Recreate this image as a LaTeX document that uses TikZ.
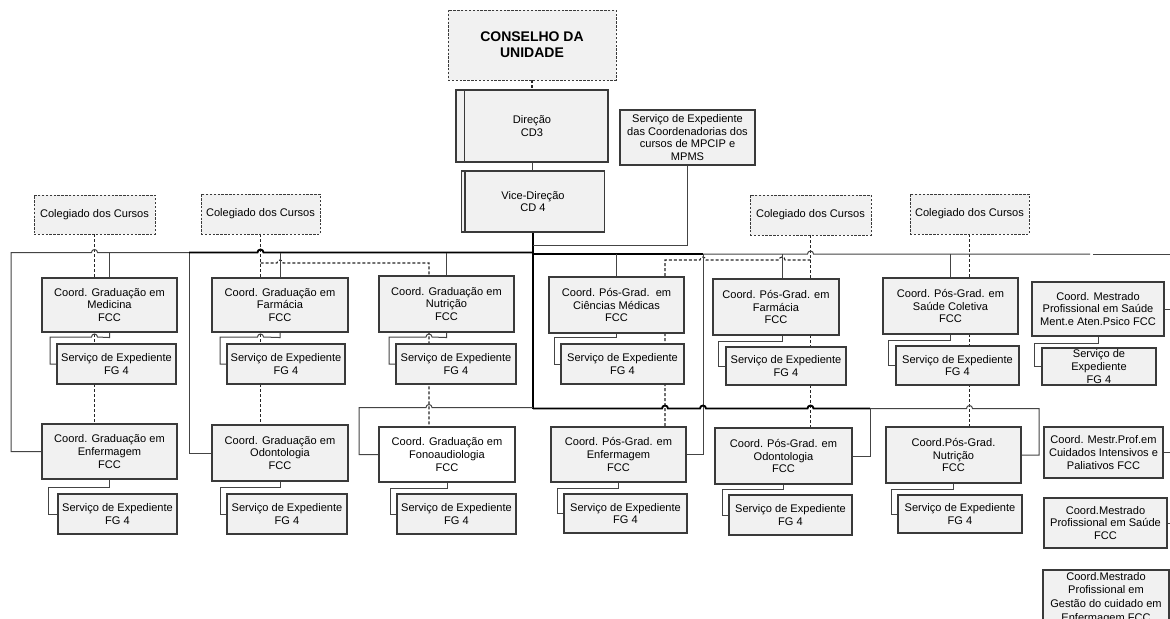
\documentclass[tikz,border=0pt]{standalone}
\usepackage{fontspec}
\setmainfont{Liberation Sans}
\usetikzlibrary{calc,backgrounds}
\definecolor{boxfill}{HTML}{F1F1F1}
\definecolor{edgecol}{HTML}{3A3A3A}
\definecolor{wirecol}{HTML}{444444}

% line hops: a small arch over a crossing line at x = #1, height #2
\newcommand{\hopR}[2]{-- (#1-3,#2) arc[start angle=180,end angle=0,radius=2.25pt]}
\newcommand{\hopL}[2]{-- (#1+3,#2) arc[start angle=0,end angle=180,radius=2.25pt]}

\tikzset{
  sz/.style 2 args={minimum width=#1*0.75pt, minimum height=#2*0.75pt},
  orgbox/.style={draw=edgecol, fill=boxfill, line width=0.8pt, inner sep=1pt,
    align=center, font=\fontsize{8.3}{9.5}\selectfont},
  dashbox/.style={orgbox, line width=0.6pt, dash pattern=on 1.8pt off 1.1pt},
  wirec/.style={draw=wirecol, line width=0.75pt},
  buswide/.style={draw=black, line width=1.4pt},
  trunkline/.style={draw=black, line width=1.2pt},
  dsh/.style={draw=black!85, line width=0.8pt, dash pattern=on 2.25pt off 1.5pt},
}

\begin{document}
\begin{tikzpicture}[x=0.75pt,y=-0.75pt]
\path[use as bounding box] (0,0) rectangle (1170,618);

% ---- direction ----
\node[dashbox, sz={168}{70}, font=\bfseries\fontsize{10.5}{11.8}\selectfont] (cons) at (532,45) {CONSELHO DA\\UNIDADE};
\node[orgbox, sz={152}{72}] (dir) at (532,126) {Direção\\CD3};
\node[orgbox, sz={143}{61}] (vice) at (533,201.5) {Vice-Direção\\CD 4};
\draw[draw=edgecol, line width=0.8pt] ([xshift=6.75pt]dir.north west) -- ([xshift=6.75pt]dir.south west);
\draw[draw=edgecol, line width=0.8pt] ([xshift=3pt]vice.north west) -- ([xshift=3pt]vice.south west);
\node[orgbox, sz={135}{55}] (sexp) at (687.5,137.5) {Serviço de Expediente\\das Coordenadorias dos\\cursos de MPCIP e\\MPMS};

% ---- course boards ----
\node[dashbox, sz={121}{39}] (col1) at (94.5,214.5) {Colegiado dos Cursos};
\node[dashbox, sz={119}{40}] (col2) at (260.5,214) {Colegiado dos Cursos};
\node[dashbox, sz={121}{40}] (col3) at (810.5,215) {Colegiado dos Cursos};
\node[dashbox, sz={119}{40}] (col4) at (969.5,214) {Colegiado dos Cursos};

% ---- first row of coordinations ----
\node[orgbox, sz={135}{54}] (gmed) at (109.5,305) {Coord. Graduação em\\Medicina\\FCC};
\node[orgbox, sz={136}{54}] (gfar) at (280,305) {Coord. Graduação em\\Farmácia\\FCC};
\node[orgbox, sz={135}{56}] (gnut) at (446.5,304) {Coord. Graduação em\\Nutrição\\FCC};
\node[orgbox, sz={135}{56}] (pcm) at (616.5,305) {Coord. Pós-Grad.\ \ em\\Ciências Médicas\\FCC};
\node[orgbox, sz={126}{56}] (pfar) at (776,307) {Coord. Pós-Grad. em\\Farmácia\\FCC};
\node[orgbox, sz={135}{56}] (pcol) at (950.5,306) {Coord. Pós-Grad. em\\Saúde Coletiva\\FCC};
\node[orgbox, sz={132}{54}] (mment) at (1098,309) {Coord. Mestrado\\Profissional em Saúde\\Ment.e Aten.Psico FCC};

\node[orgbox, sz={119}{40}] (smed) at (116.5,364) {Serviço de Expediente\\FG 4};
\node[orgbox, sz={118}{40}] (sfar) at (286,364) {Serviço de Expediente\\FG 4};
\node[orgbox, sz={120}{40}] (snut) at (456,364) {Serviço de Expediente\\FG 4};
\node[orgbox, sz={123}{40}] (spcm) at (622.5,364) {Serviço de Expediente\\FG 4};
\node[orgbox, sz={120}{38}] (spfar) at (786,366) {Serviço de Expediente\\FG 4};
\node[orgbox, sz={123}{39}] (spcol) at (957.5,365.5) {Serviço de Expediente\\FG 4};
\node[orgbox, sz={114}{37}] (smment) at (1099,366.5) {Serviço de\\Expediente\\FG 4};

% ---- second row of coordinations ----
\node[orgbox, sz={135}{55}] (genf) at (109.5,451.5) {Coord. Graduação em\\Enfermagem\\FCC};
\node[orgbox, sz={136}{56}] (godo) at (280,453) {Coord. Graduação em\\Odontologia\\FCC};
\node[orgbox, fill=white, sz={136}{55}] (gfono) at (447,454.5) {Coord. Graduação em\\Fonoaudiologia\\FCC};
\node[orgbox, sz={135}{55}] (penf) at (618.5,454.5) {Coord. Pós-Grad. em\\Enfermagem\\FCC};
\node[orgbox, sz={137}{56}] (podo) at (783.5,456) {Coord. Pós-Grad. em\\Odontologia\\FCC};
\node[orgbox, sz={135}{56}] (pnut) at (953.5,455) {Coord.Pós-Grad.\\Nutrição\\FCC};
\node[orgbox, sz={119}{51}] (mcui) at (1103.5,452.5) {Coord. Mestr.Prof.em\\Cuidados Intensivos e\\Paliativos FCC};
\node[orgbox, sz={123}{50}] (msau) at (1105.5,523) {Coord.Mestrado\\Profissional em Saúde\\FCC};
\begin{scope}
  \clip (0,0) rectangle (1170,618);
  \node[orgbox, sz={126}{56}, font=\fontsize{8.3}{10.4}\selectfont] (mges) at (1106,598) {Coord.Mestrado\\Profissional em\\Gestão do cuidado em\\Enfermagem FCC};
\end{scope}

\node[orgbox, sz={119}{40}] (senf) at (117.5,514) {Serviço de Expediente\\FG 4};
\node[orgbox, sz={120}{40}] (sodo) at (287,514) {Serviço de Expediente\\FG 4};
\node[orgbox, sz={119}{40}] (sfono) at (456.5,514) {Serviço de Expediente\\FG 4};
\node[orgbox, sz={123}{39}] (spenf) at (625.5,513.5) {Serviço de Expediente\\FG 4};
\node[orgbox, sz={123}{40}] (spodo) at (790.5,515) {Serviço de Expediente\\FG 4};
\node[orgbox, sz={124}{38}] (spnut) at (960,514) {Serviço de Expediente\\FG 4};

% ---- connectors, behind the boxes ----
\begin{pgfonlayer}{background}
\fill[white] (0,0) rectangle (1170,618);

\coordinate (jL) at (533,252.5);
\coordinate (jR) at (533,254);
\coordinate (jS) at (533,245);
\coordinate (kL) at (533,407.5);
\coordinate (kR) at (533,408.5);
\coordinate (bL) at (11,252.5);
\coordinate (bM) at (189,252.5);
\coordinate (rA) at (703,254);
\coordinate (pf) at (782,254);
\coordinate (lL) at (359,407.5);
\coordinate (lM) at (870,408.5);
\coordinate (lR) at (1039,408.5);
\coordinate (d2) at (429,263);
\coordinate (d3) at (665,260);

% dashed links from the boards
\draw[dsh] (cons.south) -- (cons.south |- dir.north);
\draw[dsh] (col1.south) -- (col1.south |- genf.north);
\draw[dsh] (col2.south) -- (col2.south |- godo.north);
\draw[dsh] (col2.south |- d2) \hopR{280}{263} -- (d2) -- (d2 |- gfono.north);
\draw[dsh] (col3.south) -- (col3.south |- podo.north);
\draw[dsh] (col3.south |- d3) \hopL{782}{260} \hopL{703}{260} -- (d3) -- (d3 |- penf.north);
\draw[dsh] (col4.south) -- (col4.south |- pnut.north);

% main chain
\draw[wirec] (dir.south) -- (dir.south |- vice.north);
\draw[trunkline] (vice.south) -- (kR);
\draw[wirec] (sexp.south) |- (jS);

% upper bus, left part
\draw[wirec] (genf.west) -| (bL) \hopR{94.5}{252.5} -- (bM);
\draw[wirec] (godo.west) -| (bM);
\draw[buswide] (bM) \hopR{260.5}{252.5} -- (jL);
\draw[wirec] (gmed.north) -- (gmed.north |- bL);
\draw[wirec] (gfar.north) -- (gfar.north |- bL);
\draw[wirec] (gnut.north) -- (gnut.north |- bL);

% upper bus, right part
\draw[buswide] (jR) -- (rA);
\draw[wirec] (rA) \hopR{810.5}{254} -- (1090,254);
\draw[wirec] (1093,254) -- (1170,254);
\draw[wirec] (pcm.north) -- (pcm.north |- jR);
\draw[wirec] (penf.east) -| (rA);
\draw[wirec] (pf) -- (pf |- pfar.north);
\draw[wirec] (pcol.north) -- (pcol.north |- jR);

% lower bus
\draw[wirec] (kL) \hopL{429}{407.5} -- (lL) |- (gfono.west);
\draw[buswide] (kR) \hopR{665}{408.5} \hopR{703}{408.5} \hopR{810.5}{408.5} -- (lM);
\draw[wirec] (lM) |- (podo.east);
\draw[wirec] (lM) \hopR{969.5}{408.5} -- (lR) |- (pnut.east);

% each coordination to its office
\draw[wirec] (gmed.south) -- ++(0,5) \hopL{94.5}{337} -- (50,337) |- (smed.west);
\draw[wirec] (gfar.south) -- ++(0,5) \hopL{260.5}{337} -- (220,337) |- (sfar.west);
\draw[wirec] (gnut.south) -- ++(0,5) \hopL{429}{337} -- (389,337) |- (snut.west);
\draw[wirec] (pcm.south) -- ++(0,4) -| ($(spcm.west)+(-6,0)$) -- (spcm.west);
\draw[wirec] (pf |- pfar.south) -- ++(0,6) -| ($(spfar.west)+(-7,0)$) -- (spfar.west);
\draw[wirec] (pcol.south) -- ++(0,6) -| ($(spcol.west)+(-7,0)$) -- (spcol.west);
\draw[wirec] (mment.south) -- ++(0,7) -| ($(smment.west)+(-7,0)$) -- (smment.west);
\draw[wirec] (genf.south) -- ++(0,8) -| ($(senf.west)+(-9,0)$) -- (senf.west);
\draw[wirec] (godo.south) -- ++(0,6) -| ($(sodo.west)+(-6,0)$) -- (sodo.west);
\draw[wirec] (gfono.south) -- ++(0,6) -| ($(sfono.west)+(-6,0)$) -- (sfono.west);
\draw[wirec] (penf.south) -- ++(0,6) -| ($(spenf.west)+(-6,0)$) -- (spenf.west);
\draw[wirec] (podo.south) -- ++(0,5) -| ($(spodo.west)+(-6,0)$) -- (spodo.west);
\draw[wirec] (pnut.south) -- ++(0,6) -| ($(spnut.west)+(-6,0)$) -- (spnut.west);

% links leaving to the right
\draw[wirec] (mment.east) -- ++(8,0);
\draw[wirec] (mcui.east) -- ++(8,0);
\draw[wirec] (msau.east) -- ++(8,0);
\draw[wirec] (mges.east) -- ++(8,0);
\end{pgfonlayer}
\end{tikzpicture}
\end{document}
